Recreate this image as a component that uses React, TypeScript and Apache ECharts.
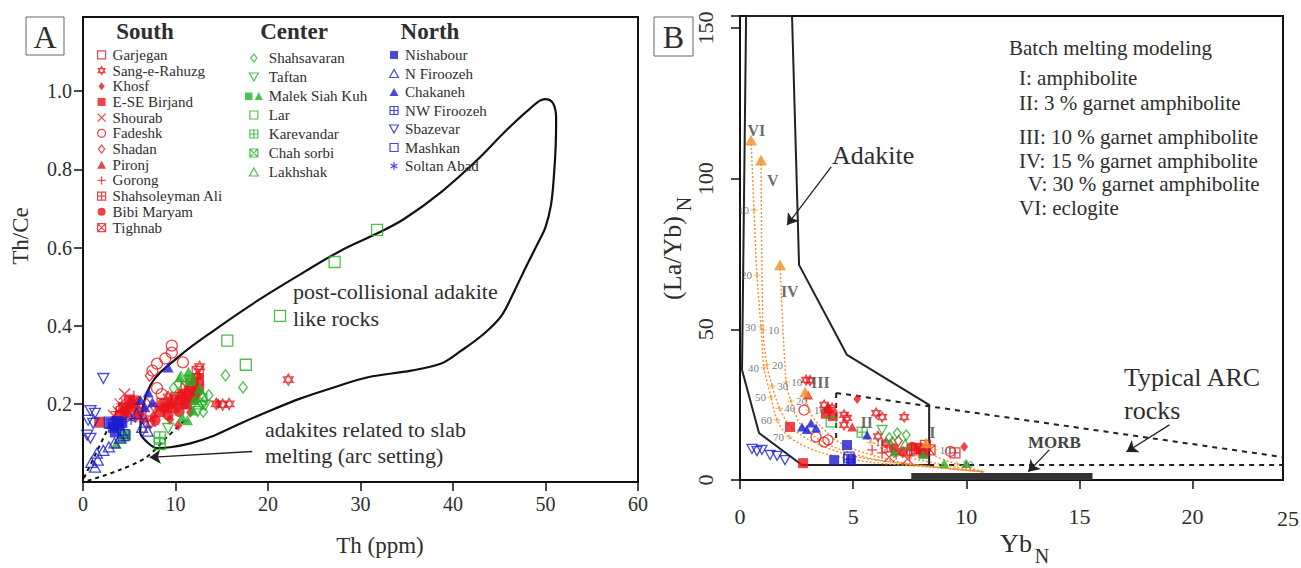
import React, { useEffect, useRef } from "react";
import * as echarts from "echarts";

const FONT = "'Liberation Serif', 'Times New Roman', serif";
const RED = "#e8141c";
const GREEN = "#22b022";
const BLUE = "#1a1ad0";
const ORANGE = "#f0902c";
const INK = "#2e2e2e";

const SYM = {
  rect: "path://M0,0H10V10H0Z",
  circle: "path://M0,5A5,5 0 1 1 10,5A5,5 0 1 1 0,5Z",
  triangle: "path://M5,0L10,9L0,9Z",
  diamond: "path://M5,0L10,6.5L5,13L0,6.5Z",
  invTriangle: "path://M0,0L10,0L5,9Z",
  hexagram: "path://M5,0L9.33,7.5L0.67,7.5Z M5,10L0.67,2.5L9.33,2.5Z",
  cross: "path://M0,0L10,10M10,0L0,10",
  plus: "path://M5,0L5,10M0,5L10,5",
  boxPlus: "path://M0,0H10V10H0Z M5,0V10M0,5H10",
  boxCross: "path://M0,0H10V10H0Z M0,0L10,10M10,0L0,10",
  asterisk: "path://M5,0V10M0.7,2.5L9.3,7.5M9.3,2.5L0.7,7.5",
  malekIcon: "path://M0,1.5H6.5V8H0Z M8.5,8L12,1L15.5,8Z",
};

// ---------- legend groups ----------
const southNames = ["Garjegan", "Sang-e-Rahuzg", "Khosf", "E-SE Birjand", "Shourab", "Fadeshk", "Shadan", "Pironj", "Gorong", "Shahsoleyman Ali", "Bibi Maryam", "Tighnab"];
const centerNames = ["Shahsavaran", "Taftan", "Malek Siah Kuh", "Lar", "Karevandar", "Chah sorbi", "Lakhshak"];
const northNames = ["Nishabour", "N Firoozeh", "Chakaneh", "NW Firoozeh", "Sbazevar", "Mashkan", "Soltan Abad"];
const regionHeaders = ["South", "Center", "North"];
const yTicksB = [0, 50, 100, 150];

// ---------- Panel A data: Th (ppm) vs Th/Ce ----------
const garjeganA = [[8.6, 0.2], [10.1, 0.215], [6.2, 0.175]];
const sangA = [[12.6, 0.295], [12.3, 0.27], [11.8, 0.25], [14.4, 0.2], [15.1, 0.198], [15.8, 0.2], [22.2, 0.262], [9.2, 0.218], [9.9, 0.214], [8.8, 0.19], [10.6, 0.222], [6.6, 0.162], [7.3, 0.15], [12.0, 0.232]];
const khosfA = [[10.3, 0.145], [14.6, 0.2], [7.6, 0.168], [11.6, 0.178], [5.7, 0.165], [9.4, 0.16]];
const birjandA = [[1.8, 0.153], [5.0, 0.21], [5.6, 0.205], [4.4, 0.19], [10.5, 0.21], [11.2, 0.2], [12.0, 0.22], [11.5, 0.232], [8.3, 0.18], [9.0, 0.19], [12.5, 0.245], [10.8, 0.225], [9.6, 0.205], [4.8, 0.18]];
const shourabA = [[4.0, 0.2], [4.5, 0.225], [3.8, 0.18], [5.2, 0.19], [6.1, 0.17], [5.5, 0.205], [4.8, 0.17], [3.3, 0.17]];
const fadeshkA = [[9.6, 0.349], [9.6, 0.331], [8.9, 0.316], [8.0, 0.303], [7.5, 0.285], [10.8, 0.306], [8.0, 0.24], [8.5, 0.225]];
const shadanA = [[7.2, 0.272], [7.8, 0.19], [6.9, 0.2]];
const pironjA = [[12.5, 0.272], [9.5, 0.2], [11.0, 0.222]];
const gorongA = [[4.2, 0.2], [5.5, 0.22], [6.5, 0.162], [3.6, 0.18], [4.6, 0.16], [5.9, 0.19]];
const shahsoleymanA = [[11.8, 0.25], [12.4, 0.262]];
const bibiA = [[4.5, 0.182], [5.2, 0.2], [6.0, 0.18], [9.2, 0.172], [10.0, 0.19], [11.0, 0.2], [7.8, 0.158], [12.3, 0.23], [11.8, 0.212], [4.0, 0.172], [10.4, 0.18], [8.6, 0.2]];
const tighnabA = [[12.4, 0.282], [11.2, 0.242]];
const shahsavaranA = [[15.4, 0.273], [17.3, 0.242], [10.3, 0.252], [12.9, 0.2], [13.6, 0.222], [13.0, 0.18], [9.8, 0.24]];
const taftanA = [[9.2, 0.137], [13.2, 0.196], [12.4, 0.18]];
const malekTriA = [[11.4, 0.282], [11.3, 0.158], [11.9, 0.183], [10.7, 0.166], [4.2, 0.112], [10.5, 0.268], [12.0, 0.21], [3.6, 0.098], [12.6, 0.24]];
const malekSqA = [[11.6, 0.26], [4.6, 0.12]];
const larA = [[15.6, 0.362], [17.6, 0.3], [21.3, 0.425], [27.2, 0.563], [31.8, 0.645]];
const karevandarA = [[8.3, 0.114], [8.3, 0.097]];
const chahA = [[12.8, 0.212]];
const lakhshakA = [[12.9, 0.218], [12.5, 0.2], [10.6, 0.27]];
const nishabourA = [[3.3, 0.14], [3.9, 0.146], [3.5, 0.128], [4.2, 0.152], [3.0, 0.15], [3.7, 0.155]];
const nFiroozehA = [[1.3, 0.038], [1.6, 0.056], [2.2, 0.081], [1.5, 0.074], [4.0, 0.112], [4.3, 0.125], [6.4, 0.14], [6.7, 0.153], [0.9, 0.05], [2.8, 0.09], [7.0, 0.13], [5.8, 0.175], [3.4, 0.1]];
const chakanehA = [[9.2, 0.293], [7.05, 0.229], [7.5, 0.204], [6.7, 0.191], [6.2, 0.21]];
const nwFiroozehA = [[4.4, 0.12]];
const sbazevarA = [[2.2, 0.265], [0.8, 0.183], [1.3, 0.176], [0.55, 0.158], [1.1, 0.15], [0.45, 0.12], [0.8, 0.112]];
const mashkanA = [[2.9, 0.152]];
const soltanA = [[5.2, 0.16]];

// ---------- Panel B data: YbN vs (La/Yb)N ----------
const garjeganB = [[7.8, 10.5]];
const sangB = [[2.92, 33.2], [3.1, 33.0], [3.72, 24.9], [3.94, 23.2], [4.07, 23.9], [4.6, 21.6], [4.6, 18.3], [4.73, 20.6], [6.02, 22.2], [6.28, 20.9], [7.26, 20.9], [6.46, 12.3], [6.1, 14.5]];
const khosfB = [[5.18, 26.9], [9.91, 11.0], [3.9, 24.0]];
const birjandB = [[2.21, 17.6], [2.79, 5.6], [3.8, 22.0], [4.1, 21.2], [7.9, 10.5], [8.1, 9.0]];
const shourabB = [[6.59, 7.6], [7.0, 9.0], [7.4, 7.0]];
const fadeshkB = [[2.83, 23.2], [3.36, 14.3], [3.72, 12.6], [3.89, 13.3], [9.3, 9.5]];
const shadanB = [[7.0, 13.0]];
const pironjB = [[3.01, 28.2], [4.96, 17.6]];
const gorongB = [[5.84, 10.0], [6.28, 9.0], [7.5, 8.0], [6.9, 8.5]];
const shahsoleymanB = [[6.5, 11.0], [8.2, 11.5], [9.5, 9.0], [7.6, 10.0]];
const bibiB = [[7.6, 11.0], [7.2, 9.5], [8.0, 9.8], [6.8, 10.5]];
const tighnabB = [[8.4, 10.0]];
const shahsavaranB = [[6.73, 12.6], [6.95, 15.6], [7.35, 14.9], [6.6, 14.0]];
const taftanB = [[6.28, 16.6]];
const malekTriB = [[6.81, 9.3], [9.03, 5.6], [10.0, 5.6], [8.1, 8.5]];
const larB = [[4.03, 19.3]];
const karevandarB = [[5.4, 15.9]];
const lakhshakB = [[7.3, 12.0]];
const nishabourB = [[4.16, 6.6], [4.73, 11.6], [4.91, 6.6]];
const chakanehB = [[2.74, 17.6], [3.14, 18.9], [3.36, 17.3], [5.62, 14.9], [2.95, 16.8]];
const nwFiroozehB = [[4.8, 6.8]];
const sbazevarB = [[0.53, 10.3], [0.75, 9.6], [0.97, 10.0], [1.33, 8.3], [1.64, 8.0], [1.99, 6.6]];
const mashkanB = [[4.82, 7.6]];

// ---------- Panel A fields ----------
const postCollisionalField = [[23.54, 0.532], [27.87, 0.592], [31.89, 0.637], [34.71, 0.673], [38.72, 0.742], [42.52, 0.822], [45.77, 0.9], [48.3, 0.955], [49.9, 0.98], [50.8, 0.97], [51.15, 0.93], [51.1, 0.86], [50.9, 0.78], [50.6, 0.71], [50.0, 0.652], [49.2, 0.612], [47.94, 0.553], [46.64, 0.489], [45.23, 0.425], [43.38, 0.38], [40.89, 0.336], [38.72, 0.303], [35.47, 0.285], [30.8, 0.268], [27.11, 0.242], [23.54, 0.214], [20.28, 0.183], [17.03, 0.15], [13.77, 0.115], [11.61, 0.099], [9.44, 0.089], [8.03, 0.087], [6.94, 0.102], [6.18, 0.127], [7.27, 0.247], [10.52, 0.324], [14.1, 0.387], [18.87, 0.464], [23.54, 0.532]];
const slabDashSteep = [[0.1, 0.01], [4.2, 0.21]];
const slabDashLow = [[0.5, 0.003], [4.0, 0.031], [6.9, 0.064], [9.1, 0.115], [11.0, 0.158]];
const arrowA = [[18.3, 0.078], [7.2, 0.063]];

// ---------- Panel B fields ----------
const adakiteField = [[0.27, 154], [2.3, 154], [2.61, 71.4], [4.73, 41.5], [8.36, 24.9], [8.36, 5.0], [2.74, 5.0], [0.84, 15.6], [0.09, 36.5], [0.27, 154]];
const arcUpper = [[4.25, 28.9], [24, 7.6]];
const arcStep = [[4.25, 28.9], [4.25, 12.6]];
const arcLower = [[8.36, 5.0], [24, 5.0]];
const morbBar = [[7.57, 1.16], [15.58, 1.16]];
const arrowAdakite = [[4.03, 103.9], [2.08, 84.6]];
const arrowArc = [[18.98, 18.3], [17.08, 9.3]];
const arrowMorb = [[13.67, 10.0], [12.74, 2.7]];

// ---------- batch melting curves ----------
const curveVI = [[0.49, 112.8], [0.62, 89.6], [0.75, 68.0], [0.93, 50.8], [1.06, 37.2], [1.37, 27.5], [1.64, 19.9], [2.17, 14.3], [3.5, 9.3], [5.71, 6.0], [8.36, 4.3], [10.8, 2.7]];
const curveV = [[0.93, 106.2], [1.02, 49.8], [1.19, 38.2], [1.42, 31.2], [1.73, 24.2], [2.17, 18.3], [3.05, 13.3], [4.82, 8.3], [7.04, 5.6], [10.8, 2.7]];
const curveIV = [[1.77, 71.4], [2.04, 32.5], [2.25, 26.2], [2.7, 18.3], [3.94, 11.6], [6.15, 6.6], [10.8, 2.7]];
const curveIII = [[2.88, 29.2], [3.05, 23.2], [3.5, 18.3], [4.6, 11.6], [7.04, 6.0], [10.8, 2.7]];
const curveII = [[5.62, 13.9], [6.59, 9.3], [8.8, 5.3], [10.8, 2.7]];
const curveI = [[8.23, 12.3], [8.58, 8.3], [9.47, 5.6], [10.8, 2.7]];
const curveEnds = [[0.49, 112.8], [0.93, 106.2], [1.77, 71.4], [2.88, 29.2], [8.23, 12.3]];
const ticksLeft = [[0.62, 89.6, "10"], [0.75, 68.0, "20"], [0.93, 50.8, "30"], [1.06, 37.2, "40"], [1.37, 27.5, "50"], [1.64, 19.9, "60"], [2.17, 14.3, "70"]];
const ticksRight = [[1.02, 49.8, "10"], [1.19, 38.2, "20"], [1.42, 31.2, "30"], [1.73, 23.8, "40"], [2.04, 32.5, "10"], [2.25, 26.2, "20"], [3.05, 23.2, "10"], [5.75, 12.5, "10"], [8.6, 10.0, "10"], [9.6, 5.3, "20"]];
const romanLabels = [[0.72, 116, "VI"], [1.45, 99.5, "V"], [2.2, 62.4, "IV"], [3.55, 32.5, "III"], [5.6, 19.2, "II"], [8.5, 15.6, "I"]];

const batchTitle = "Batch melting modeling";
const batchLines = ["I: amphibolite", "II: 3 % garnet amphibolite", "III: 10 % garnet amphibolite", "IV: 15 % garnet amphibolite", " V: 30 % garnet amphibolite", "VI: eclogite"];

const groups = [
  { name: "Garjegan", color: RED, symbol: SYM.rect, filled: false, a: garjeganA, b: garjeganB },
  { name: "Sang-e-Rahuzg", color: RED, symbol: SYM.hexagram, filled: false, a: sangA, b: sangB },
  { name: "Khosf", color: RED, symbol: SYM.diamond, filled: true, a: khosfA, b: khosfB },
  { name: "E-SE Birjand", color: RED, symbol: SYM.rect, filled: true, a: birjandA, b: birjandB },
  { name: "Shourab", color: RED, symbol: SYM.cross, filled: false, a: shourabA, b: shourabB },
  { name: "Fadeshk", color: RED, symbol: SYM.circle, filled: false, a: fadeshkA, b: fadeshkB },
  { name: "Shadan", color: RED, symbol: SYM.diamond, filled: false, a: shadanA, b: shadanB },
  { name: "Pironj", color: RED, symbol: SYM.triangle, filled: true, a: pironjA, b: pironjB },
  { name: "Gorong", color: RED, symbol: SYM.plus, filled: false, a: gorongA, b: gorongB },
  { name: "Shahsoleyman Ali", color: RED, symbol: SYM.boxPlus, filled: false, a: shahsoleymanA, b: shahsoleymanB },
  { name: "Bibi Maryam", color: RED, symbol: SYM.circle, filled: true, a: bibiA, b: bibiB },
  { name: "Tighnab", color: RED, symbol: SYM.boxCross, filled: false, a: tighnabA, b: tighnabB },
  { name: "Shahsavaran", color: GREEN, symbol: SYM.diamond, filled: false, a: shahsavaranA, b: shahsavaranB },
  { name: "Taftan", color: GREEN, symbol: SYM.invTriangle, filled: false, a: taftanA, b: taftanB },
  { name: "Malek Siah Kuh", color: GREEN, symbol: SYM.triangle, filled: true, a: malekTriA, b: malekTriB },
  { name: "Malek Siah Kuh", color: GREEN, symbol: SYM.rect, filled: true, a: malekSqA, b: [] },
  { name: "Lar", color: GREEN, symbol: SYM.rect, filled: false, a: larA, b: larB },
  { name: "Karevandar", color: GREEN, symbol: SYM.boxPlus, filled: false, a: karevandarA, b: karevandarB },
  { name: "Chah sorbi", color: GREEN, symbol: SYM.boxCross, filled: false, a: chahA, b: [] },
  { name: "Lakhshak", color: GREEN, symbol: SYM.triangle, filled: false, a: lakhshakA, b: lakhshakB },
  { name: "Nishabour", color: BLUE, symbol: SYM.rect, filled: true, a: nishabourA, b: nishabourB },
  { name: "N Firoozeh", color: BLUE, symbol: SYM.triangle, filled: false, a: nFiroozehA, b: [] },
  { name: "Chakaneh", color: BLUE, symbol: SYM.triangle, filled: true, a: chakanehA, b: chakanehB },
  { name: "NW Firoozeh", color: BLUE, symbol: SYM.boxPlus, filled: false, a: nwFiroozehA, b: nwFiroozehB },
  { name: "Sbazevar", color: BLUE, symbol: SYM.invTriangle, filled: false, a: sbazevarA, b: sbazevarB },
  { name: "Mashkan", color: BLUE, symbol: SYM.rect, filled: false, a: mashkanA, b: mashkanB },
  { name: "Soltan Abad", color: BLUE, symbol: SYM.asterisk, filled: false, a: soltanA, b: [] },
];

function markStyle(g) {
  return g.filled ? { color: g.color } : { color: "transparent", borderColor: g.color, borderWidth: 1.3 };
}

const T = (text, x, y, size, extra = {}) => ({
  type: "text", x, y, silent: true,
  style: { text, fill: INK, font: `${size}px ${FONT}`, align: "left", verticalAlign: "middle", ...extra },
});

function buildOption() {
  const series: any[] = [];
  groups.forEach((g) => {
    series.push({ type: "scatter", name: g.name, xAxisIndex: 0, yAxisIndex: 0, data: g.a, symbol: g.symbol, symbolSize: 11, symbolKeepAspect: true, itemStyle: markStyle(g), z: 5 });
    series.push({ type: "scatter", name: g.name, xAxisIndex: 1, yAxisIndex: 1, data: g.b, symbol: g.symbol, symbolSize: 10, symbolKeepAspect: true, itemStyle: markStyle(g), z: 5 });
  });

  const arrowMark = (pairs) => ({
    silent: true,
    symbol: ["none", "arrow"],
    symbolSize: 11,
    label: { show: false },
    lineStyle: { color: "#222", width: 1.3, type: "solid" },
    emphasis: { disabled: true },
    data: pairs.map((p) => [{ coord: p[0] }, { coord: p[1] }]),
  });

  // Panel A lines
  series.push({ type: "line", xAxisIndex: 0, yAxisIndex: 0, data: postCollisionalField, smooth: 0.35, symbol: "none", silent: true, lineStyle: { color: "#111", width: 2.2 }, z: 3, markLine: arrowMark([arrowA]) });
  series.push({ type: "line", xAxisIndex: 0, yAxisIndex: 0, data: slabDashSteep, symbol: "none", silent: true, lineStyle: { color: "#111", width: 2, type: [4, 4] }, z: 3 });
  series.push({ type: "line", xAxisIndex: 0, yAxisIndex: 0, data: slabDashLow, smooth: 0.3, symbol: "none", silent: true, lineStyle: { color: "#111", width: 2, type: [4, 4] }, z: 3 });

  // Panel B lines
  series.push({ type: "line", xAxisIndex: 1, yAxisIndex: 1, data: adakiteField, symbol: "none", silent: true, lineStyle: { color: "#222", width: 2 }, z: 3, markLine: arrowMark([arrowAdakite, arrowArc, arrowMorb]) });
  [arcUpper, arcStep, arcLower].forEach((d) => {
    series.push({ type: "line", xAxisIndex: 1, yAxisIndex: 1, data: d, symbol: "none", silent: true, lineStyle: { color: "#222", width: 2, type: [5, 5] }, z: 3 });
  });
  series.push({ type: "line", xAxisIndex: 1, yAxisIndex: 1, data: morbBar, symbol: "none", silent: true, lineStyle: { color: "#333", width: 7, cap: "butt" }, z: 3 });
  [curveVI, curveV, curveIV, curveIII, curveII, curveI].forEach((d) => {
    series.push({ type: "line", xAxisIndex: 1, yAxisIndex: 1, data: d, smooth: 0.3, symbol: "none", silent: true, lineStyle: { color: ORANGE, width: 1.4, type: [2, 2] }, z: 4 });
  });
  series.push({ type: "scatter", xAxisIndex: 1, yAxisIndex: 1, data: curveEnds, symbol: SYM.triangle, symbolSize: 12, symbolKeepAspect: true, silent: true, itemStyle: { color: ORANGE }, z: 6 });
  const tickSeries = (arr, pos) => ({
    type: "scatter", xAxisIndex: 1, yAxisIndex: 1, silent: true, z: 6,
    data: arr.map((t) => ({ value: [t[0], t[1]], name: t[2] })),
    symbol: SYM.plus, symbolSize: [7, 5], itemStyle: { color: "transparent", borderColor: ORANGE, borderWidth: 1 },
    label: { show: true, position: pos, distance: 1, formatter: "{b}", fontFamily: FONT, fontSize: 11, color: "#555" },
  });
  series.push(tickSeries(ticksLeft, "left"));
  series.push(tickSeries(ticksRight, "right"));
  series.push({
    type: "scatter", xAxisIndex: 1, yAxisIndex: 1, silent: true, z: 7,
    data: romanLabels.map((t) => ({ value: [t[0], t[1]], name: t[2] })),
    symbol: "circle", symbolSize: 1, itemStyle: { color: "transparent" },
    label: { show: true, position: "inside", formatter: "{b}", fontFamily: FONT, fontSize: 16, fontWeight: "bold", color: "#444" },
  });

  const legendBase = (names, left, top, lh, iw, gap) => ({
    data: names.map((n) => (n === "Malek Siah Kuh" ? { name: n, icon: SYM.malekIcon } : { name: n })),
    orient: "vertical", left, top, padding: 0, itemGap: 0, itemWidth: iw, itemHeight: 8, itemTextGap: gap,
    selectedMode: false, symbolKeepAspect: true,
    itemStyle: { borderWidth: 1.2 },
    textStyle: { fontFamily: FONT, fontSize: 15, color: INK, lineHeight: lh },
  });

  const graphic = [
    { type: "rect", shape: { x: 26, y: 17, width: 38, height: 38 }, style: { fill: "#fff", stroke: "#666", lineWidth: 1 }, silent: true },
    T("A", 45, 37, 32, { align: "center" }),
    { type: "rect", shape: { x: 654, y: 17, width: 39, height: 39 }, style: { fill: "#fff", stroke: "#666", lineWidth: 1 }, silent: true },
    T("B", 673.5, 37, 32, { align: "center" }),
    T(regionHeaders[0], 145, 31, 23, { align: "center", font: `bold 23px ${FONT}` }),
    T(regionHeaders[1], 294, 31, 23, { align: "center", font: `bold 23px ${FONT}` }),
    T(regionHeaders[2], 430, 31, 23, { align: "center", font: `bold 23px ${FONT}` }),
    { ...T("Th/Ce", 20, 236, 23, { align: "center" }), rotation: Math.PI / 2 },
    T("Th (ppm)", 380, 545, 23, { align: "center" }),
    { ...T("(La/Yb)", 672, 258, 26, { align: "center" }), rotation: Math.PI / 2 },
    { ...T("N", 684, 204, 20, { align: "center" }), rotation: Math.PI / 2 },
    T("Yb", 1016, 543, 26, { align: "center" }),
    T("N", 1042, 556, 20, { align: "center" }),
    T("25", 1288, 518, 22, { align: "center" }),
    T("post-collisional adakite", 293, 291, 22),
    T("like rocks", 293, 318, 22),
    T("adakites related to slab", 265, 429, 22),
    T("melting (arc setting)", 265, 455, 22),
    T("Adakite", 832, 155, 26),
    T("Typical ARC", 1124, 377, 26),
    T("rocks", 1124, 410, 26),
    T("MORB", 1028, 442, 17, { font: `bold 17px ${FONT}`, fill: "#444" }),
    T(batchTitle, 1009, 48, 21),
    ...batchLines.map((s, i) => T(s, s.startsWith(" ") ? 1023 : 1019, [78, 103, 137, 161, 184, 208][i], 21)),
  ];

  const axisCommon = {
    type: "value",
    splitLine: { show: false },
    axisLine: { show: true, onZero: false, lineStyle: { color: "#111", width: 2 } },
    axisTick: { show: true, length: 9, lineStyle: { color: "#111", width: 1.5 } },
  };

  return {
    animation: false,
    backgroundColor: "#fff",
    textStyle: { fontFamily: FONT },
    grid: [
      { left: 83, top: 17, width: 555, height: 465, show: true, borderColor: "#111", borderWidth: 2, backgroundColor: "transparent" },
      { left: 740, top: 16, width: 543, height: 464, show: true, borderColor: "#111", borderWidth: 2, backgroundColor: "transparent" },
    ],
    xAxis: [
      { ...axisCommon, gridIndex: 0, min: 0, max: 60, interval: 10, axisLabel: { fontFamily: FONT, fontSize: 20, color: INK, margin: 12 } },
      { ...axisCommon, gridIndex: 1, min: 0, max: 24, interval: 5, axisLabel: { fontFamily: FONT, fontSize: 22, color: INK, margin: 25, showMaxLabel: false } },
    ],
    yAxis: [
      { ...axisCommon, gridIndex: 0, min: 0, max: 1.19, interval: 0.2, axisLabel: { fontFamily: FONT, fontSize: 20, color: INK, margin: 11, showMinLabel: false, showMaxLabel: false, formatter: (v) => v.toFixed(1) } },
      { ...axisCommon, gridIndex: 1, min: 0, max: 154, interval: 50, axisLabel: { show: false } },
    ],
    legend: [
      legendBase(southNames, 97, 47, 15.7, 12, 7),
      legendBase(centerNames, 245, 48.5, 19, 20, 5),
      legendBase(northNames, 389, 45.75, 18.5, 12, 7),
    ],
    graphic,
    series,
  };
}

export default function App() {
  const ref = useRef<HTMLDivElement>(null);
  useEffect(() => {
    const chart = echarts.init(ref.current as HTMLDivElement, null, { renderer: "svg" });
    const option: any = buildOption();
    chart.setOption(option);
    // y tick labels of panel B, rotated, placed through the axis scale
    const yLabels = yTicksB.map((v) => {
      const py = chart.convertToPixel({ yAxisIndex: 1 } as any, v) as number;
      return { ...T(String(v), 705, py, 22, { align: "center" }), rotation: Math.PI / 2 };
    });
    chart.setOption({ graphic: [...option.graphic, ...yLabels] });
    return () => chart.dispose();
  }, []);
  return <div ref={ref} style={{ position: "absolute", left: 0, top: 0, width: 1301, height: 568, background: "#fff" }} />;
}
